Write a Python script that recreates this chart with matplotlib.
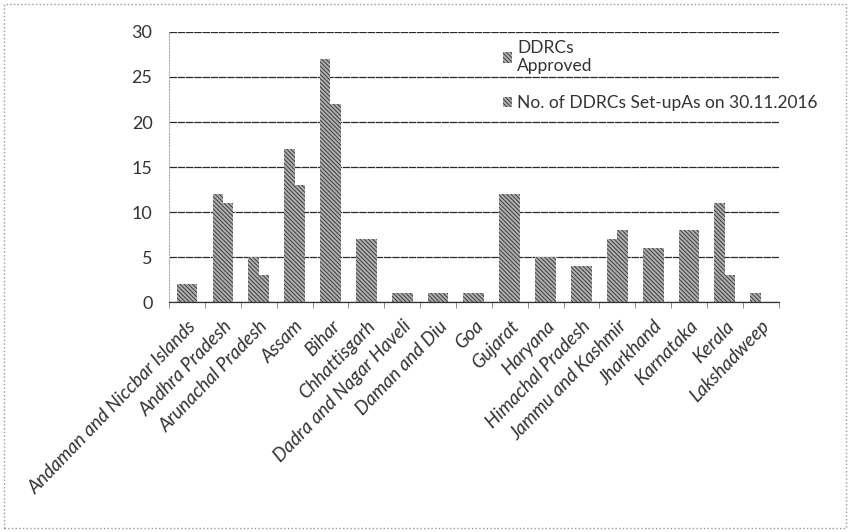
import numpy as np
import matplotlib.pyplot as plt
from matplotlib.patches import Rectangle

# ---------------------------------------------------------
# DATA
# ---------------------------------------------------------
states = [
    "Andaman and Niccbar Islands", "Andhra Pradesh", "Arunachal Pradesh",
    "Assam", "Bihar", "Chhattisgarh", "Dadra and Nagar Haveli",
    "Daman and Diu", "Goa", "Gujarat", "Haryana", "Himachal Pradesh",
    "Jammu and Kashmir", "Jharkhand", "Karnataka", "Kerala", "Lakshadweep",
]
approved = [2, 12, 5, 17, 27, 7, 1, 1, 1, 12, 5, 4, 7, 6, 8, 11, 1]
setup = [2, 11, 3, 13, 22, 7, 1, 1, 1, 12, 5, 4, 8, 6, 8, 3, 0]
y_ticks = [0, 5, 10, 15, 20, 25, 30]

label_approved = "DDRCs\nApproved"
label_setup = "No. of DDRCs Set-upAs on 30.11.2016"

# ---------------------------------------------------------
# STYLE
# ---------------------------------------------------------
plt.rcParams['font.family'] = ['Lato', 'DejaVu Sans']
plt.rcParams['hatch.linewidth'] = 0.7

fig = plt.figure(figsize=(8.5, 5.32), dpi=100)
fig.patch.set_facecolor('white')
ax = fig.add_axes([0.199, 0.432, 0.717, 0.508])

x = np.arange(len(states))
w = 0.29
# hatch takes the edge colour; linewidth 0 keeps the outline off
bar_kw = dict(color='#b0b0b0', edgecolor='#3c3c3c', linewidth=0,
              hatch='\\\\\\\\\\\\\\\\')
ax.bar(x - w / 2, approved, w, label=label_approved, **bar_kw)
ax.bar(x + w / 2, setup, w, label=label_setup, **bar_kw)

ax.set_xlim(-0.5, len(states) - 0.5)
ax.set_ylim(0, 30)
ax.set_yticks(y_ticks)
ax.tick_params(axis='y', length=0, labelsize=13, labelcolor='#333333', pad=12)

# horizontal gridlines
ax.set_axisbelow(True)
ax.yaxis.grid(True, color='#2a2a2a', linewidth=0.9, linestyle=(0, (6, 0.6)))
ax.xaxis.grid(False)

# category labels, ticks at the boundaries
ax.set_xticks(x)
ax.set_xticklabels(states, rotation=46, ha='right', rotation_mode='anchor',
                   fontsize=13.5, color='#333333', style='italic')
ax.tick_params(axis='x', length=0, pad=11)
ax.set_xticks(np.arange(len(states) + 1) - 0.5, minor=True)
ax.tick_params(axis='x', which='minor', length=4, color='#777777', width=0.6)

for side in ['top', 'right']:
    ax.spines[side].set_visible(False)
ax.spines['left'].set_color('#aaaaaa')
ax.spines['left'].set_linestyle(':')
ax.spines['left'].set_linewidth(0.8)
ax.spines['bottom'].set_color('#333333')
ax.spines['bottom'].set_linewidth(0.9)

leg = ax.legend(loc='upper left', bbox_to_anchor=(0.53, 1.01), frameon=False,
                fontsize=12.5, handlelength=0.55, handleheight=0.55,
                handletextpad=0.3, labelspacing=1.2, borderaxespad=0.2)
for t in leg.get_texts():
    t.set_color('#333333')

# dotted chart border
fig.patches.append(Rectangle((0.005, 0.008), 0.99, 0.985, transform=fig.transFigure,
                             fill=False, edgecolor='#999999', linestyle=':',
                             linewidth=1.0))

plt.savefig('out.png', dpi=100, facecolor=fig.get_facecolor())
